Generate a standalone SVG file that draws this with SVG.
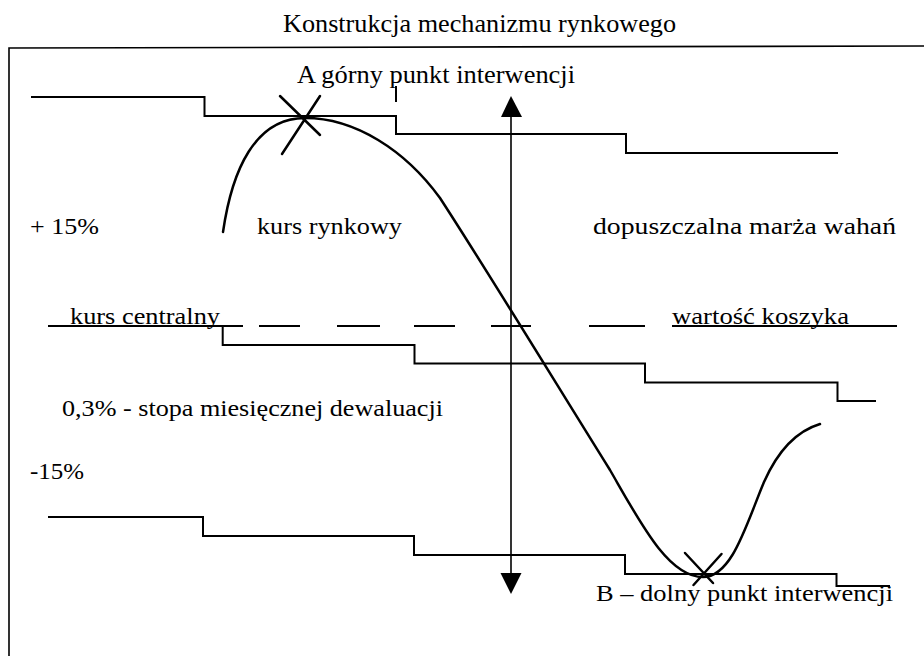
<svg xmlns="http://www.w3.org/2000/svg" width="924" height="656" viewBox="0 0 924 656">
  <style>
    text { font-family: "Liberation Serif", "Times New Roman", serif; fill: #000; }
    .t26 { font-size: 26px; }
    .t24 { font-size: 25px; }
    .t21 { font-size: 23px; }
    .ln { fill: none; stroke: #000; stroke-width: 2; stroke-linejoin: miter; stroke-linecap: butt; }
    .thin { fill: none; stroke: #000; stroke-width: 1.6; }
    .curve { fill: none; stroke: #000; stroke-width: 2.5; stroke-linecap: round; }
  </style>
  <rect width="924" height="656" fill="#fff"/>

  <g id="title">
    <text class="t26" x="283" y="32" textLength="393" lengthAdjust="spacingAndGlyphs">Konstrukcja mechanizmu rynkowego</text>
  </g>

  <g id="frame">
    <path class="thin" d="M9,656 V48 L924,46"/>
  </g>

  <g id="upper-band">
    <path class="ln" d="M31,97 H204.5 V116 H396 V134 H626 V153 H838"/>
    <path class="ln" d="M396,86 V102"/>
  </g>

  <g id="central-line">
    <path class="ln" d="M222.7,326 V345 H414.5 V363.5 H645 V382.5 H837.5 V401 H876"/>
    <path class="ln" d="M48,326 H243 M259,326 H300 M337,326 H380 M414,326 H455 M491,326 H531 M589,326 H645 M672,326 H897"/>
  </g>

  <g id="lower-band">
    <path class="ln" d="M48,517 H203 V536 H414 V555 H625 V574 H836.5 V586 H890"/>
  </g>

  <g id="connectors">
    <path class="thin" d="M511,112 V578"/>
    <polygon points="511,96 501,117 522,117" fill="#000"/>
    <polygon points="511,594 500.5,573 521.5,573" fill="#000"/>
  </g>

  <g id="market-curve">
    <path class="curve" d="M223,232 C232,170 255,118 305,118 C355,118 405,150 440,198 C490,275 560,390 610,470 C640,522 668,577 703,577 C732,577 746,525 764,482 C780,446 800,430 820,424"/>
  </g>

  <g id="point-A">
    <path class="curve" d="M280,96 L320,135 M320,96 L282,154"/>
    <text class="t24" x="297" y="82.5" textLength="278" lengthAdjust="spacingAndGlyphs">A górny punkt interwencji</text>
  </g>

  <g id="point-B">
    <path class="curve" d="M685,553 L713,583 M721.5,554 L693.5,585"/>
    <text class="t21" x="596" y="601" textLength="297" lengthAdjust="spacingAndGlyphs">B – dolny punkt interwencji</text>
  </g>

  <g id="labels">
    <text class="t21" x="30" y="234" textLength="69" lengthAdjust="spacingAndGlyphs">+ 15%</text>
    <text class="t21" x="257" y="234" textLength="145" lengthAdjust="spacingAndGlyphs">kurs rynkowy</text>
    <text class="t21" x="593" y="234" textLength="303" lengthAdjust="spacingAndGlyphs">dopuszczalna marża wahań</text>
    <text class="t21" x="70" y="324" textLength="150" lengthAdjust="spacingAndGlyphs">kurs centralny</text>
    <text class="t21" x="672" y="324" textLength="177" lengthAdjust="spacingAndGlyphs">wartość koszyka</text>
    <text class="t21" x="62" y="416" textLength="381" lengthAdjust="spacingAndGlyphs">0,3% - stopa miesięcznej dewaluacji</text>
    <text class="t21" x="30" y="479" textLength="54" lengthAdjust="spacingAndGlyphs">-15%</text>
  </g>
</svg>
